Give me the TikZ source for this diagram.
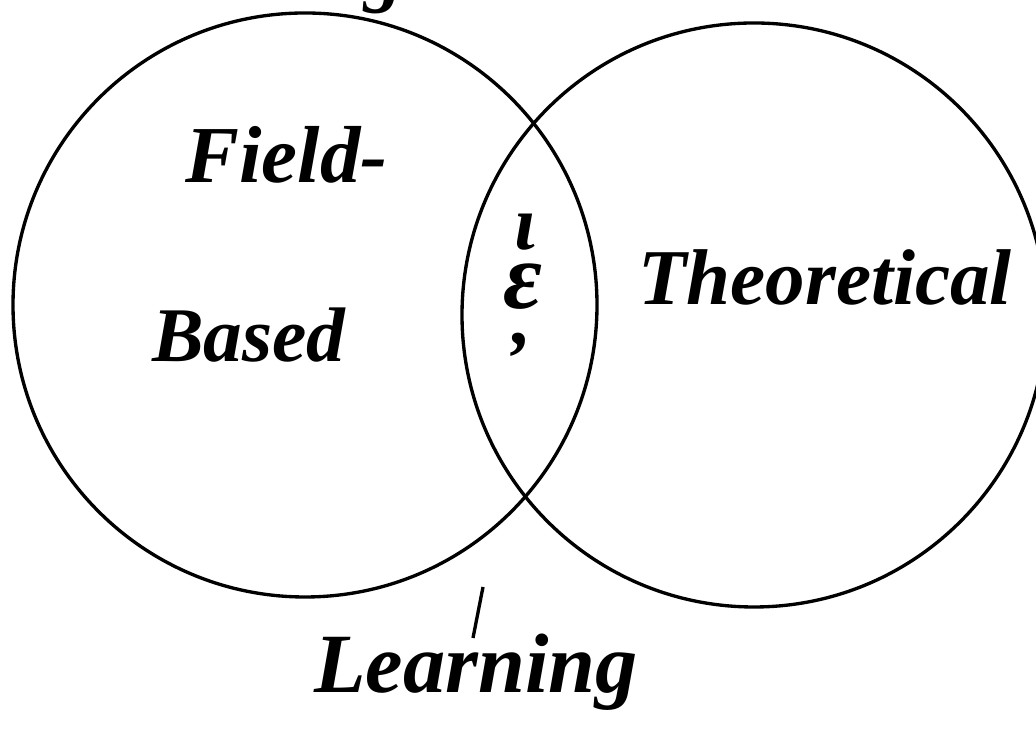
\documentclass[tikz,border=0pt]{standalone}
\usepackage{fontspec}
\setmainfont{Liberation Serif}

\begin{document}
\begin{tikzpicture}[
    ring/.style={line width=1.9pt},
    word/.style={font=\fontsize{44}{44}\selectfont\bfseries\itshape, inner sep=0pt, anchor=base west},
    glyph/.style={font=\fontsize{44}{44}\selectfont\bfseries\itshape, inner sep=0pt}
  ]
            \useasboundingbox (0,0) rectangle (20.72,14.76);

            % the two circles
            \draw[ring] (6.10,8.66) circle (5.84);
            \draw[ring] (15.08,8.46) circle (5.84);

            % tail of the cut off word above
            \node[word] (top) at (7.28,14.80) {g};

            \node[word, font=\fontsize{46}{46}\selectfont\bfseries\itshape] (field) at (3.70,11.10) {Field-};
            \node[word] (based) at (3.04,7.52) {Based};
            \node[word, font=\fontsize{45}{45}\selectfont\bfseries\itshape] (theory) at (12.76,8.66) {Theoretical};

            % marks in the overlap
            \node[glyph] (iota) at (10.50,10.12) {ι};
            \node[glyph, font=\fontsize{54}{54}\selectfont\bfseries\itshape] (eps) at (10.46,9.02) {ε};
            \node[glyph] (comma) at (10.44,7.86) {,};

            \node[word, font=\fontsize{48}{48}\selectfont\bfseries\itshape] (learn) at (6.28,0.90) {Learning};
            \draw[ring] (9.66,3.02) -- (9.46,2.00);
        \end{tikzpicture}
\end{document}
